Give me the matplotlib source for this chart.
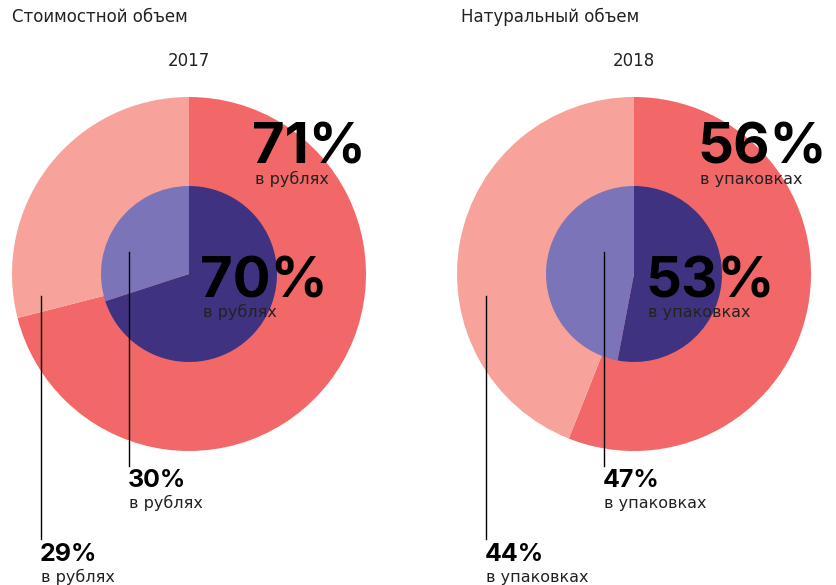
import matplotlib.pyplot as plt

# two panels: value share (2017) and volume share (2018)
titles = ["Стоимостной объем", "Натуральный объем"]
years = ["2017", "2018"]
units = ["в рублях", "в упаковках"]
outer_values = [[71, 29], [56, 44]]
inner_values = [[70, 30], [53, 47]]

outer_colors = ["#f26767", "#f7a39b"]
inner_colors = ["#3f3381", "#7b74b8"]

W, H = 836, 585
REG = "DejaVu Sans"
BIG = "Inter"

fig = plt.figure(figsize=(W / 100, H / 100), dpi=100)
ax = fig.add_axes([0, 0, 1, 1])

def py(y):
    # pixel row (from top) -> data y
    return H - y

centers_x = [189, 634]
cy = 274
title_x = [12, 461]

for i, cx in enumerate(centers_x):
    ax.pie(outer_values[i], colors=outer_colors, startangle=90, counterclock=False,
           center=(cx, py(cy)), radius=177, frame=True,
           wedgeprops=dict(linewidth=0))
    ax.pie(inner_values[i], colors=inner_colors, startangle=90, counterclock=False,
           center=(cx, py(cy)), radius=88, frame=True,
           wedgeprops=dict(linewidth=0))

    ax.text(title_x[i], py(22), titles[i], fontsize=12, family=REG,
            color="#222222", ha="left", va="baseline")
    ax.text(cx, py(66), years[i], fontsize=12, family=REG,
            color="#222222", ha="center", va="baseline")

    # big labels for the main shares
    ax.text(cx + 63, py(163), f"{outer_values[i][0]}%", fontsize=40.5, family=BIG,
            weight="bold", color="black", ha="left", va="baseline")
    ax.text(cx + 66, py(184), units[i], fontsize=11.5, family=REG,
            color="#222222", ha="left", va="baseline")
    ax.text(cx + 11, py(297), f"{inner_values[i][0]}%", fontsize=40.5, family=BIG,
            weight="bold", color="black", ha="left", va="baseline")
    ax.text(cx + 14, py(317), units[i], fontsize=11.5, family=REG,
            color="#222222", ha="left", va="baseline")

    # leader lines for the minor shares
    ox = cx - 148
    ix = cx - 60 if i == 0 else cx - 30
    ax.plot([ox, ox], [py(296), py(539)], color="black", lw=1)
    ax.plot([ix, ix], [py(252), py(466)], color="black", lw=1)

    ax.text(ox - 1, py(561), f"{outer_values[i][1]}%", fontsize=18, family=BIG,
            weight="bold", color="black", ha="left", va="baseline")
    ax.text(ox, py(582), units[i], fontsize=11.5, family=REG,
            color="#222222", ha="left", va="baseline")
    ax.text(ix - 1, py(487), f"{inner_values[i][1]}%", fontsize=18, family=BIG,
            weight="bold", color="black", ha="left", va="baseline")
    ax.text(ix, py(508), units[i], fontsize=11.5, family=REG,
            color="#222222", ha="left", va="baseline")

ax.set_xlim(0, W)
ax.set_ylim(0, H)
ax.set_aspect("equal")
ax.axis("off")

fig.savefig("out.png", dpi=100)
